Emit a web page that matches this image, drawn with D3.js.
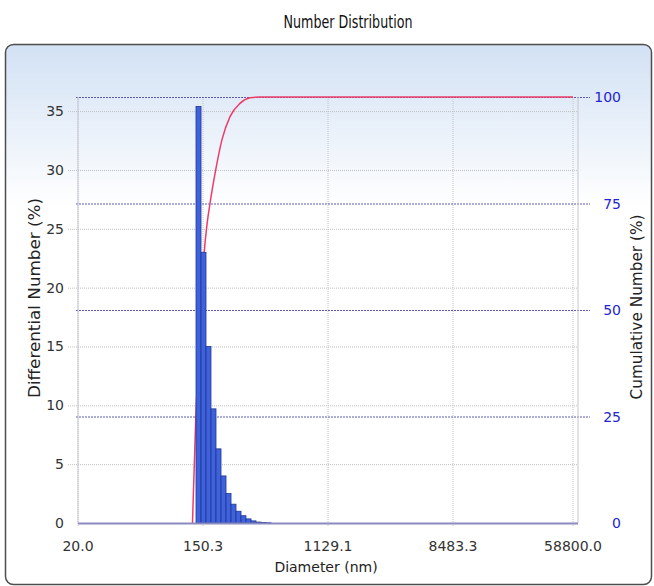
<!DOCTYPE html>
<html>
<head>
<meta charset="utf-8">
<script src="https://cdn.jsdelivr.net/npm/d3@7"></script>
<style>
	body { margin: 0; background: #fff; }
	svg { display: block; }
	text { font-family: "DejaVu Sans", Verdana, sans-serif; }
</style>
</head>
<body>
<div id="chart"></div>
<script>
let WIDTH = 654;
let HEIGHT = 586;

// size classes (nm): lower edge of each bin, plus the upper edge of the last one
let binEdges = [134.2, 145.5, 157.7, 170.9, 185.3, 200.9, 217.8, 236.1, 255.9, 277.4, 300.6, 326.0, 353.3, 383.0, 415.3, 450.1];
// differential number (%) per bin
let differential = [35.4, 23.0, 15.0, 9.7, 6.3, 4.0, 2.5, 1.6, 1.0, 0.62, 0.35, 0.18, 0.08, 0.04, 0.02];

// cumulative number (%)
let cumSizes = [126.8, 133.5, 143.1, 153.4, 160.2, 168.2, 182.4, 204.1, 232.3, 272.9, 320.7, 376.8, 58800];
let cumulative = [0, 24, 45, 63.7, 70, 75, 82, 90, 95.4, 98.5, 99.8, 100, 100];

let xTicks = [20.0, 150.3, 1129.1, 8483.3, 58800.0];
let leftTicks = [0, 5, 10, 15, 20, 25, 30, 35];
let rightTicks = [0, 25, 50, 75, 100];

let X_MIN = 20;
let X_MAX = 63700;
let LEFT_MAX = 36.2;
let RIGHT_MAX = 100;

let plot = {left: 78, right: 578, top: 97, bottom: 523};

let svg = d3.select('#chart').append('svg')
	.attr('width', WIDTH)
	.attr('height', HEIGHT);

let grad = svg.append('defs').append('linearGradient')
	.attr('id', 'panelGrad')
	.attr('x1', 0).attr('y1', 0).attr('x2', 0).attr('y2', 1);
grad.append('stop').attr('offset', '0%').attr('stop-color', '#d2e1f4');
grad.append('stop').attr('offset', '30%').attr('stop-color', '#ffffff');
grad.append('stop').attr('offset', '100%').attr('stop-color', '#ffffff');

svg.append('text')
	.attr('x', 348)
	.attr('y', 28)
	.attr('text-anchor', 'middle')
	.style('font-family', '"Liberation Sans Narrow", "DejaVu Sans Condensed", sans-serif')
	.style('font-size', '18px')
	.attr('textLength', 129)
	.attr('lengthAdjust', 'spacingAndGlyphs')
	.attr('fill', '#111')
	.text('Number Distribution');

svg.append('rect')
	.attr('x', 5.5)
	.attr('y', 44.5)
	.attr('width', 646)
	.attr('height', 540)
	.attr('rx', 8)
	.attr('fill', 'url(#panelGrad)')
	.attr('stroke', '#4d4d4d')
	.attr('stroke-width', 1.5);

let x = d3.scaleLog()
	.domain([X_MIN, X_MAX])
	.range([plot.left, plot.right]);

let yLeft = d3.scaleLinear()
	.domain([0, LEFT_MAX])
	.range([plot.bottom, plot.top]);

let yRight = d3.scaleLinear()
	.domain([0, RIGHT_MAX])
	.range([plot.bottom, plot.top]);

// vertical grid
svg.append('g').selectAll('line')
	.data(xTicks)
	.enter().append('line')
	.attr('x1', (d) => x(d)).attr('x2', (d) => x(d))
	.attr('y1', plot.top).attr('y2', plot.bottom + 4)
	.attr('stroke', '#c4c4c4')
	.attr('stroke-dasharray', '1,1');

// left-axis grid
svg.append('g').selectAll('line')
	.data(leftTicks.filter((d) => d > 0))
	.enter().append('line')
	.attr('x1', plot.left - 10).attr('x2', plot.right)
	.attr('y1', (d) => yLeft(d) + 0.5).attr('y2', (d) => yLeft(d) + 0.5)
	.attr('stroke', '#c0c0c0')
	.attr('stroke-dasharray', '1,1');

// right-axis grid
svg.append('g').selectAll('line')
	.data(rightTicks.filter((d) => d > 0))
	.enter().append('line')
	.attr('x1', plot.left - 2).attr('x2', plot.right + 12)
	.attr('y1', (d) => yRight(d) + 0.5).attr('y2', (d) => yRight(d) + 0.5)
	.attr('stroke', '#5a5ab4')
	.attr('stroke-dasharray', '2,1');

// frame
svg.append('line')
	.attr('x1', plot.left).attr('x2', plot.left)
	.attr('y1', plot.top).attr('y2', plot.bottom)
	.attr('stroke', '#c6c6d6');
svg.append('line')
	.attr('x1', plot.right).attr('x2', plot.right)
	.attr('y1', plot.top).attr('y2', plot.bottom)
	.attr('stroke', '#c6c6d0');

// cumulative curve
let line = d3.line()
	.x((d, i) => x(cumSizes[i]))
	.y((d) => yRight(d))
	.curve(d3.curveMonotoneX);

svg.append('path')
	.datum(cumulative)
	.attr('d', line)
	.attr('fill', 'none')
	.attr('stroke', '#ee3c68')
	.attr('stroke-width', 1.5);

// differential bars
svg.append('g').selectAll('rect')
	.data(differential)
	.enter().append('rect')
	.attr('x', (d, i) => x(binEdges[i]))
	.attr('width', (d, i) => x(binEdges[i + 1]) - x(binEdges[i]))
	.attr('y', (d) => yLeft(d))
	.attr('height', (d) => plot.bottom - yLeft(d))
	.attr('fill', '#3f62dc')
	.attr('stroke', '#1e3896')
	.attr('stroke-width', 0.8);

svg.append('line')
	.attr('x1', plot.left).attr('x2', plot.right)
	.attr('y1', plot.bottom + 0.5).attr('y2', plot.bottom + 0.5)
	.attr('stroke', '#8a8ac0')
	.attr('stroke-width', 2);

// tick labels
svg.append('g').selectAll('text')
	.data(leftTicks)
	.enter().append('text')
	.attr('x', 64)
	.attr('y', (d) => yLeft(d) + 5)
	.attr('text-anchor', 'end')
	.style('font-size', '14px')
	.attr('fill', '#333')
	.text((d) => d);

svg.append('g').selectAll('text')
	.data(rightTicks)
	.enter().append('text')
	.attr('x', 621)
	.attr('y', (d) => yRight(d) + 5)
	.attr('text-anchor', 'end')
	.style('font-size', '14px')
	.attr('fill', '#2424d0')
	.text((d) => d);

svg.append('g').selectAll('text')
	.data(xTicks)
	.enter().append('text')
	.attr('x', (d) => x(d))
	.attr('y', 551)
	.attr('text-anchor', 'middle')
	.style('font-size', '14px')
	.attr('fill', '#333')
	.text((d) => d3.format('.1f')(d));

// axis titles
svg.append('text')
	.attr('x', 326)
	.attr('y', 572)
	.attr('text-anchor', 'middle')
	.style('font-size', '14px')
	.attr('fill', '#222')
	.text('Diameter (nm)');

svg.append('text')
	.attr('transform', 'translate(40,298) rotate(-90)')
	.attr('text-anchor', 'middle')
	.style('font-size', '15px')
	.attr('textLength', 200)
	.attr('lengthAdjust', 'spacingAndGlyphs')
	.attr('fill', '#222')
	.text('Differential Number (%)');

svg.append('text')
	.attr('transform', 'translate(642,307) rotate(-90)')
	.attr('text-anchor', 'middle')
	.style('font-size', '15px')
	.attr('textLength', 185)
	.attr('lengthAdjust', 'spacingAndGlyphs')
	.attr('fill', '#222')
	.text('Cumulative Number (%)');
</script>
</body>
</html>
